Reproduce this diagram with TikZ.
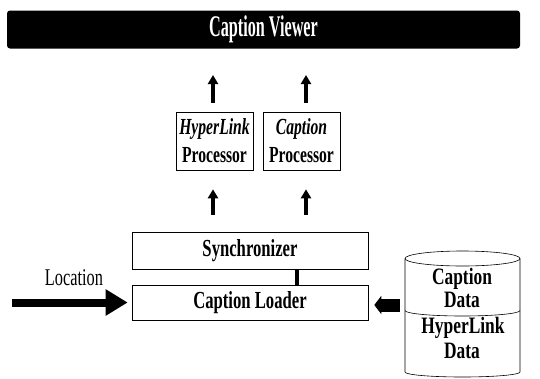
\documentclass[tikz,border=0pt]{standalone}
\usepackage{fontspec}
\setmainfont{Liberation Serif}
\newfontfamily\cond[FakeStretch=0.68]{Liberation Serif}
\newfontfamily\condd[FakeStretch=0.74]{Liberation Serif}
\newfontfamily\condt[FakeStretch=0.54]{Liberation Serif}
\usetikzlibrary{arrows.meta}
\begin{document}
\begin{tikzpicture}[x=1pt,y=-1pt,
  box/.style={draw, line width=0.6pt, inner sep=0pt},
  boxfont/.style={font=\cond\bfseries\fontsize{24.5}{26}\selectfont},
  procfont/.style={font=\cond\bfseries\fontsize{23}{27}\selectfont},
  dbfont/.style={font=\condd\bfseries\fontsize{23.5}{24}\selectfont},
  uparrow/.style={line width=3.4pt, -{Triangle[width=10pt,length=9pt]}}]
\useasboundingbox (0,0) rectangle (540,378);
% title bar
\node[fill=black, rounded corners=3pt, minimum width=513pt, minimum height=38pt, inner sep=0pt,
  text=white, font=\condt\bfseries\fontsize{30}{32}\selectfont] (viewer) at (263.5,29.5) {Caption Viewer};
% processors
\node[box, minimum width=77pt, minimum height=58pt, align=center, procfont] (hyp) at (214.5,141)
  {\raisebox{1pt}{\textit{HyperLink}}\\Processor};
\node[box, minimum width=77pt, minimum height=58pt, align=center, procfont] (cap) at (301.5,141)
  {\raisebox{1pt}{\textit{Caption}}\\Processor};
% synchronizer and loader
\node[box, minimum width=236pt, minimum height=37pt, boxfont] (sync) at (250,250.5) {Synchronizer};
\node[box, minimum width=236pt, minimum height=35pt, boxfont] (load) at (250,302.5) {Caption Loader};
% upper free ends
\coordinate (t1) at (213,75);
\coordinate (t2) at (306,75);
\draw[uparrow] ([xshift=-1.5pt,yshift=9pt]hyp.north) -- (t1);
\draw[uparrow] ([xshift=4.5pt,yshift=9pt]cap.north) -- (t2);
% lower arrows
\draw[uparrow] ([xshift=-37pt,yshift=17pt]sync.north) -- ([xshift=-1.5pt,yshift=-19pt]hyp.south);
\draw[uparrow] ([xshift=56pt,yshift=17pt]sync.north) -- ([xshift=4.5pt,yshift=-19pt]cap.south);
% link sync - loader
\draw[line width=3.5pt] ([xshift=47pt]sync.south) -- ([xshift=47pt]load.north);
% location
\coordinate (locstart) at (12,302.5);
\draw[line width=8pt, -{Triangle[width=25pt,length=22pt]}] (locstart) -- ([xshift=-4pt]load.west |- locstart);
\node[font=\cond\fontsize{24}{26}\selectfont, anchor=base] (loclabel) at (74,285) {Location};
% database cylinder
\node[minimum width=115pt, minimum height=120pt, inner sep=0pt] (db) at (462.5,318) {};
\draw[line width=0.6pt] (405,258.5) arc[start angle=180, end angle=-180, x radius=57.5, y radius=7.5];
\draw[line width=0.6pt] (405,258.5) -- (405,372) arc[start angle=180, end angle=0, x radius=57.5, y radius=5] -- (520,258.5);
\draw[line width=0.6pt] (405,310.5) arc[start angle=180, end angle=0, x radius=57.5, y radius=5.5];
\node[dbfont, anchor=base] (dbt1) at (462,284) {Caption};
\node[dbfont, anchor=base] (dbt2) at (462,307) {Data};
\node[dbfont, anchor=base] (dbt3) at (463,333) {HyperLink};
\node[dbfont, anchor=base] (dbt4) at (462,358) {Data};
\draw[line width=13pt, -{Triangle[width=18pt,length=7pt]}] ([yshift=13pt,xshift=-5pt]db.west) -- ([yshift=-2.5pt,xshift=6pt]load.east);
\end{tikzpicture}
\end{document}
